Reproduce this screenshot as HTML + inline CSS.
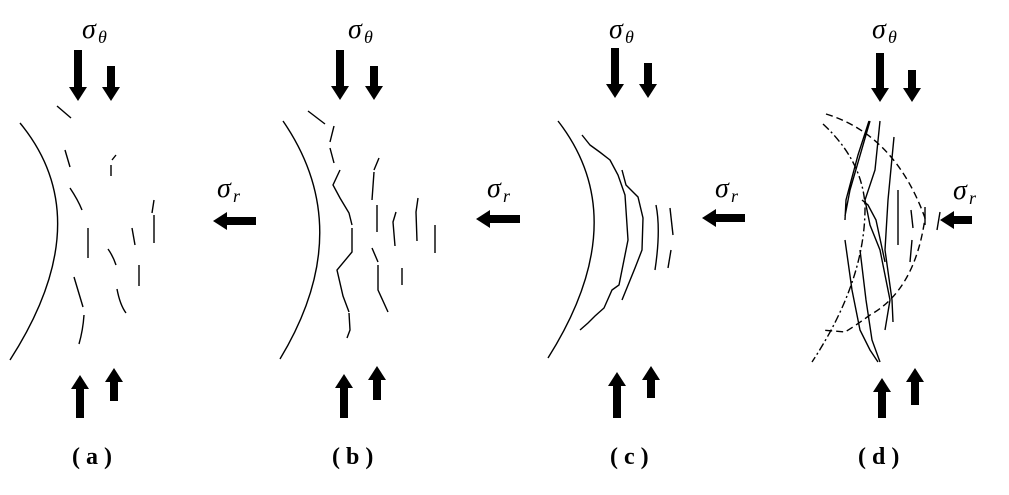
<!DOCTYPE html>
<html><head><meta charset="utf-8"><style>
html,body{margin:0;padding:0;background:#fff;width:1009px;height:495px;overflow:hidden}
svg{display:block}
.s{font-family:"Liberation Serif",serif;font-size:28px;font-style:italic}
.sub{font-family:"Liberation Serif",serif;font-size:18px;font-style:italic}
.lab{font-family:"Liberation Serif",serif;font-size:24px;font-weight:bold}
.c{fill:none;stroke:#000;stroke-width:1.4}
</style></head><body>
<svg width="1009" height="495" viewBox="0 0 1009 495">
<g fill="#000">
<path d="M74 50H82V87H87L78 101L69 87H74Z"/>
<path d="M107 66H115V87H120L111 101L102 87H107Z"/>
<path d="M336 50H344V86H349L340 100L331 86H336Z"/>
<path d="M370 66H378V86H383L374 100L365 86H370Z"/>
<path d="M611 48H619V84H624L615 98L606 84H611Z"/>
<path d="M644 63H652V84H657L648 98L639 84H644Z"/>
<path d="M876 53H884V88H889L880 102L871 88H876Z"/>
<path d="M908 70H916V88H921L912 102L903 88H908Z"/>
<path d="M76 418H84V389H89L80 375L71 389H76Z"/>
<path d="M110 401H118V382H123L114 368L105 382H110Z"/>
<path d="M340 418H348V388H353L344 374L335 388H340Z"/>
<path d="M373 400H381V380H386L377 366L368 380H373Z"/>
<path d="M613 418H621V386H626L617 372L608 386H613Z"/>
<path d="M647 398H655V380H660L651 366L642 380H647Z"/>
<path d="M878 418H886V392H891L882 378L873 392H878Z"/>
<path d="M911 405H919V382H924L915 368L906 382H911Z"/>
<path d="M256 217V225H227V230L213 221L227 212V217Z"/>
<path d="M520 215V223H490V228L476 219L490 210V215Z"/>
<path d="M745 214V222H716V227L702 218L716 209V214Z"/>
<path d="M972 216V224H954V229L940 220L954 211V216Z"/>
</g>
<g>
<text x="82" y="38" class="s">σ</text><text x="98" y="43" class="sub">θ</text>
<text x="348" y="38" class="s">σ</text><text x="364" y="43" class="sub">θ</text>
<text x="609" y="38" class="s">σ</text><text x="625" y="43" class="sub">θ</text>
<text x="872" y="38" class="s">σ</text><text x="888" y="43" class="sub">θ</text>
<text x="217" y="197" class="s">σ</text><text x="233" y="202" class="sub">r</text>
<text x="487" y="197" class="s">σ</text><text x="503" y="202" class="sub">r</text>
<text x="715" y="197" class="s">σ</text><text x="731" y="202" class="sub">r</text>
<text x="953" y="199" class="s">σ</text><text x="969" y="204" class="sub">r</text>
<text x="72" y="464" class="lab">( a )</text>
<text x="332" y="464" class="lab">( b )</text>
<text x="610" y="464" class="lab">( c )</text>
<text x="858" y="464" class="lab">( d )</text>
</g>
<path class="c" d="M20 123Q100 220 10 360"/>
<g class="c">
<path d="M57 106L71 118"/><path d="M65 150L70 167"/><path d="M70 188Q78 200 82 210"/>
<path d="M88 228V258"/><path d="M112 160L116 155M111 165V176"/>
<path d="M132 228L135 245"/><path d="M154 200L152 213M154 215V243"/>
<path d="M108 249Q113 256 116 265"/><path d="M139 265V286"/>
<path d="M74 277L83 307"/><path d="M117 289Q120 305 126 313"/><path d="M84 315Q83 330 79 344"/>
</g>
<path class="c" d="M283 121Q358 230 280 359"/>
<g class="c">
<path d="M308 111L325 124"/><path d="M334 126L330 142M330 148L334 163"/>
<path d="M340 170L333 185L340 198L349 213L352 225M352 228V252L337 270L343 296L349 312M349 313L350 330L347 338"/>
<path d="M379 158L374 170M374 172L372 200M377 205V232M372 248L378 262M378 265V290L388 312"/>
<path d="M396 212L393 222L395 246"/><path d="M418 198L416 212L417 241"/>
<path d="M435 225V253"/><path d="M402 268V285"/>
</g>
<path class="c" d="M558 121Q635 220 548 358"/>
<g class="c">
<path d="M582 135L590 145Q600 152 610 160L618 175L625 195L628 240L622 270L619 285L612 290L604 308L595 316L588 323L580 330"/>
<path d="M622 170L626 185L638 197L643 218L642 250L635 268L622 300"/>
<path d="M656 205Q661 230 655 270"/><path d="M670 208L673 235"/><path d="M671 250L668 268"/>
</g>
<g class="c">
<path d="M826 114Q895 135 925 218Q915 290 870 315Q855 326 845 332L822 330" stroke-dasharray="7 4"/>
<path d="M823 124Q862 160 865 205Q866 280 812 362" stroke-dasharray="8 3 2 3"/>
<path d="M869 121L858 155L846 200L845 220M870 121L850 190L845 216"/>
<path d="M880 121L875 170L865 200L870 225L880 250L890 300L885 330"/>
<path d="M894 137L888 200L885 250L892 300L893 322"/>
<path d="M845 240L852 290L860 330L870 350L878 362"/>
<path d="M860 250L866 300L872 340L880 362L880 362"/>
<path d="M862 200L868 205L876 220L885 262"/>
<path d="M898 190V245"/><path d="M911 210L913 228"/><path d="M925 207V225"/><path d="M912 240L910 262"/>
<path d="M940 212L937 230"/>
</g>
</svg>
</body></html>
